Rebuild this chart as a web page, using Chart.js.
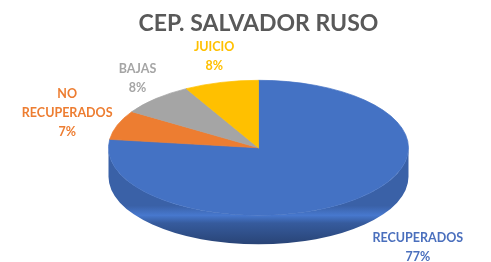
<!DOCTYPE html>
<html>
<head>
<meta charset="utf-8">
<script src="https://cdn.jsdelivr.net/npm/chart.js@4/dist/chart.umd.min.js"></script>
<style>
  html, body { margin: 0; padding: 0; background: #fff; }
  #wrap { width: 491px; height: 262px; }
</style>
</head>
<body>
<div id="wrap"><canvas id="myChart" width="491" height="262"></canvas></div>
<script>
// data
var labels = ["RECUPERADOS", "NO RECUPERADOS", "BAJAS", "JUICIO"];
var labelLines = [["RECUPERADOS"], ["NO", "RECUPERADOS"], ["BAJAS"], ["JUICIO"]];
var values = [77, 7, 8, 8];
var sliceColors = ["#4472c4", "#ed7d31", "#a5a5a5", "#ffc000"];
var textColors = ["#4a6fbd", "#ed7d31", "#a5a5a5", "#ffc000"];

var tilt = 0.45;   // vertical squash of the pie
var depth = 29;    // thickness of the 3D rim

// squash the pie into an ellipse and draw its rim
const pie3d = {
    id: 'pie3d',
    beforeDatasetsDraw(chart) {
        const ctx = chart.ctx;
        const arcs = chart.getDatasetMeta(0).data;
        if (!arcs.length) return;
        const cx = arcs[0].x, cy = arcs[0].y, r = arcs[0].outerRadius;
        const ry = r * tilt;

        arcs.forEach((arc, i) => {
            // visible rim is the front half: angles 0..PI
            let s = arc.startAngle, e = arc.endAngle;
            for (let k = -1; k <= 1; k++) {
                const a1 = Math.max(s, k * 2 * Math.PI);
                const a2 = Math.min(e, k * 2 * Math.PI + Math.PI);
                if (a2 <= a1) continue;
                const g = ctx.createLinearGradient(0, cy, 0, cy + ry + depth);
                g.addColorStop(0, shade(sliceColors[i], 0.85));
                g.addColorStop(0.6, shade(sliceColors[i], 0.85));
                g.addColorStop(0.7, shade(sliceColors[i], 1.05));
                g.addColorStop(0.78, shade(sliceColors[i], 0.8));
                g.addColorStop(1, shade(sliceColors[i], 0.6));
                ctx.save();
                ctx.beginPath();
                ctx.ellipse(cx, cy, r, ry, 0, a1, a2);
                ctx.ellipse(cx, cy + depth, r, ry, 0, a2, a1, true);
                ctx.closePath();
                ctx.fillStyle = g;
                ctx.fill();
                ctx.restore();
            }
        });

        ctx.save();
        ctx.translate(cx, cy);
        ctx.scale(1, tilt);
        ctx.translate(-cx, -cy);
    },
    afterDatasetsDraw(chart) {
        chart.ctx.restore();
        drawLabels(chart);
    }
};

function shade(hex, f) {
    const n = parseInt(hex.slice(1), 16);
    const c = [(n >> 16) & 255, (n >> 8) & 255, n & 255].map(v => Math.max(0, Math.min(255, Math.round(v * f))));
    return "rgb(" + c.join(",") + ")";
}

function drawLabels(chart) {
    const ctx = chart.ctx;
    const arcs = chart.getDatasetMeta(0).data;
    const total = values.reduce((a, b) => a + b, 0);
    const lh = 19, pad = 8;
    ctx.save();
    ctx.font = "bold 12.5px Lato";
    ctx.textAlign = "center";
    ctx.textBaseline = "middle";
    arcs.forEach((arc, i) => {
        const mid = (arc.startAngle + arc.endAngle) / 2;
        const r = arc.outerRadius;
        const cos = Math.cos(mid), sin = Math.sin(mid);
        // front labels sit farther out (perspective)
        const front = Math.max(sin, 0);
        let ax = arc.x + (r + pad + 50 * front) * cos;
        let ay = arc.y + (r * tilt + pad) * sin;
        if (sin > 0) ay += depth;
        const lines = labelLines[i].concat([Math.round(values[i] / total * 100) + "%"]);
        const w = Math.max(...lines.map(t => ctx.measureText(t).width));
        const h = lines.length * lh;
        const bx = ax + w / 2 * cos;
        const by = ay + h / 2 * sin;
        ctx.fillStyle = textColors[i];
        lines.forEach((t, j) => {
            ctx.fillText(t, bx, by - h / 2 + lh / 2 + j * lh);
        });
    });
    ctx.restore();
}

new Chart("myChart", {
    type: "pie",
    data: {
        labels: labels,
        datasets: [{
            data: values,
            backgroundColor: sliceColors,
            borderColor: sliceColors,
            borderWidth: 1,
            radius: 150,
            clip: false
        }]
    },
    options: {
        responsive: false,
        animation: false,
        events: [],
        layout: { padding: { left: 26, right: 0, top: 6, bottom: 12 } },
        plugins: {
            legend: { display: false },
            tooltip: { enabled: false },
            title: {
                display: true,
                text: "CEP. SALVADOR RUSO",
                color: "#595959",
                font: { family: "Lato", size: 23, weight: "bold" },
                padding: { top: 4, bottom: 8 }
            }
        }
    },
    plugins: [pie3d]
});
</script>
</body>
</html>
